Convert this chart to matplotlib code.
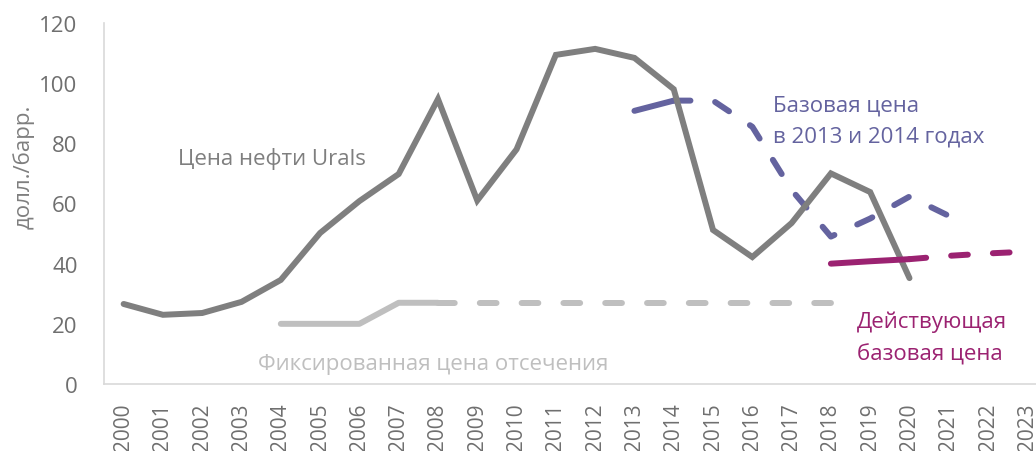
import matplotlib
matplotlib.use('Agg')
import matplotlib.pyplot as plt
import numpy as np

plt.rcParams['font.family'] = ['Open Sans', 'DejaVu Sans']

# data
years = list(range(2000, 2024))
urals = [26.6, 23.0, 23.6, 27.3, 34.6, 50.2, 60.8, 69.8, 94.7, 61.0, 78.0, 109.4,
         111.4, 108.4, 98.0, 51.2, 42.2, 53.5, 70.0, 63.8, 35.2]
fixed_years = [2004, 2005, 2006, 2007, 2008]
fixed_price = [20, 20, 20, 27, 27]
fixed_fc_years = [2008, 2009, 2010, 2011, 2012, 2013, 2014, 2015, 2016, 2017, 2018]
fixed_fc_price = [27, 27, 27, 27, 27, 27, 27, 27, 27, 27, 27]
base_years = [2013, 2014]
base_price = [90.8, 94.2]
base_fc_years = [2014, 2015, 2016, 2017, 2018, 2019, 2020, 2021]
base_fc_price = [94.2, 94.2, 85.5, 64.5, 49.0, 55.0, 62.3, 55.9]
cur_years = [2018, 2019, 2020]
cur_price = [40.0, 40.8, 41.5]
cur_fc_years = [2020, 2021, 2022, 2023]
cur_fc_price = [41.5, 42.6, 43.4, 44.0]

grey = '#7F7F7F'
light = '#BFBFBF'
purple = '#64639F'
magenta = '#9B2271'
lw = 4.3
dash = (0, (2.8, 4.2))

fig = plt.figure(figsize=(10.36, 4.52), dpi=100)
ax = fig.add_axes([104 / 1036, 67 / 452, 943 / 1036, 361 / 452])

def xi(ys):
    return np.array(ys) - years[0]

ax.plot(xi(fixed_years), fixed_price, color=light, lw=lw, solid_capstyle='round')
ax.plot(xi(fixed_fc_years), fixed_fc_price, color=light, lw=lw, linestyle=dash,
        dash_capstyle='round')
ax.plot(xi(base_years), base_price, color=purple, lw=lw, solid_capstyle='round')
ax.plot(xi(base_fc_years), base_fc_price, color=purple, lw=lw, linestyle=dash,
        dash_capstyle='round')
ax.plot(xi(years[:len(urals)]), urals, color=grey, lw=lw, solid_capstyle='round',
        solid_joinstyle='miter')
ax.plot(xi(cur_years), cur_price, color=magenta, lw=lw, solid_capstyle='round')
ax.plot(xi(cur_fc_years), cur_fc_price, color=magenta, lw=lw, linestyle=dash,
        dash_capstyle='round')

ax.set_xlim(-0.5, len(years) - 0.5)
ax.set_ylim(0, 120)
ax.set_yticks(range(0, 121, 20))
ax.set_xticks(range(len(years)))
ax.set_xticklabels([str(y) for y in years], rotation=90, va='top')
ax.tick_params(length=0, labelsize=15, colors='#6F6F6F')
ax.tick_params(axis='x', labelsize=15, pad=13)
ax.tick_params(axis='y', labelsize=16, pad=19)
for s in ['top', 'right']:
    ax.spines[s].set_visible(False)
for s in ['left', 'bottom']:
    ax.spines[s].set_color('#D9D9D9')
    ax.spines[s].set_linewidth(1.2)

ax.set_ylabel('долл./барр.', fontsize=16, color=grey, va='center')
ax.yaxis.set_label_coords(-80 / 943, 0.604)

ax.text(1.38, 73.1, 'Цена нефти Urals', fontsize=16, color=grey)
ax.text(3.42, 5.0, 'Фиксированная цена отсечения', fontsize=16, color=light)
ax.text(16.53, 90.8, 'Базовая цена', fontsize=16, color=purple)
ax.text(16.53, 80.5, 'в 2013 и 2014 годах', fontsize=16, color=purple)
ax.text(18.67, 18.9, 'Действующая', fontsize=16, color=magenta)
ax.text(18.67, 8.3, 'базовая цена', fontsize=16, color=magenta)

fig.savefig('out.png', dpi=100)
